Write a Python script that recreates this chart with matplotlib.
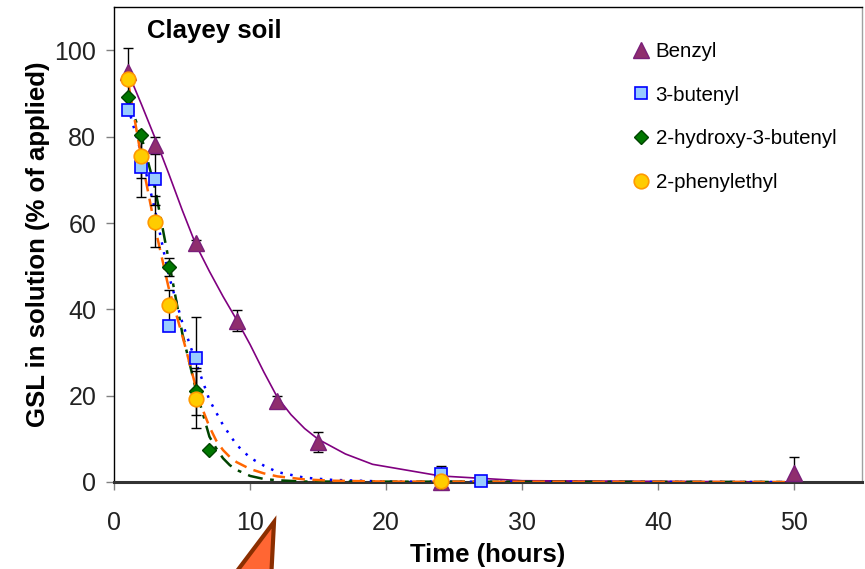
import matplotlib
matplotlib.use("Agg")
import matplotlib.pyplot as plt
from matplotlib.lines import Line2D
from matplotlib.patches import Polygon

plt.rcParams["font.family"] = ["Liberation Sans", "DejaVu Sans"]

# ------------------------------------------------------------
# measured data (time in hours, % of applied remaining)
# ------------------------------------------------------------
benzyl_t = [1, 3, 6, 9, 12, 15, 24, 50]
benzyl_v = [95.0, 78.0, 55.3, 37.4, 18.7, 9.3, 0.0, 2.0]
benzyl_err = [5.5, 2.0, 0.8, 2.4, 1.3, 2.3, 0.0, 3.8]

butenyl_t = [1, 2, 3, 4, 6, 24, 27]
butenyl_v = [86.2, 73.0, 70.2, 36.2, 28.7, 1.9, 0.2]
butenyl_err = [0.0, 7.0, 6.0, 0.5, 9.6, 1.9, 0.0]

hydroxy_t = [1, 2, 4, 6, 7, 24]
hydroxy_v = [89.2, 80.3, 49.8, 21.0, 7.3, 0.0]
hydroxy_err = [0.0, 0.0, 2.0, 5.4, 0.0, 0.0]

phenyl_t = [1, 2, 3, 4, 6, 24]
phenyl_v = [93.4, 75.5, 60.3, 40.9, 19.2, 0.2]
phenyl_err = [0.0, 5.0, 5.9, 3.6, 6.6, 0.0]

# fitted curves
benzyl_fit_t = [1, 2, 3, 4, 5, 6, 7, 8, 9, 10, 11, 12, 13, 14, 15, 17, 19, 24, 30, 50]
benzyl_fit_v = [95.0, 87.5, 79.7, 71.5, 63.0, 55.0, 48.8, 43.0, 37.6, 31.8, 25.5, 19.6,
                15.6, 12.4, 9.9, 6.5, 4.1, 1.4, 0.3, 0.0]

butenyl_fit_t = [1, 2, 3, 4, 5, 6, 7, 8, 9, 10, 11, 12, 14, 16, 20, 50]
butenyl_fit_v = [87.0, 76.0, 63.0, 48.0, 37.0, 27.8, 19.0, 13.2, 8.6, 5.6, 3.8, 2.3,
                 1.0, 0.5, 0.1, 0.0]

hydroxy_fit_t = [1, 2, 3, 4, 5, 6, 6.5, 7, 7.5, 8, 8.5, 9, 10, 11, 12, 14, 50]
hydroxy_fit_v = [89.0, 80.0, 68.0, 51.5, 34.5, 21.5, 16.0, 10.5, 7.8, 5.5, 3.9, 2.8,
                 1.4, 0.7, 0.4, 0.1, 0.0]

phenyl_fit_t = [1, 2, 3, 4, 5, 5.5, 6, 6.5, 7, 7.5, 8, 8.5, 9, 10, 11, 12, 14, 16, 20, 50]
phenyl_fit_v = [93.0, 75.0, 59.0, 45.0, 34.0, 28.0, 22.0, 16.8, 12.8, 9.6, 7.4, 5.8,
                4.6, 3.0, 2.0, 1.3, 0.6, 0.3, 0.1, 0.0]

labels = ["Benzyl", "3-butenyl", "2-hydroxy-3-butenyl", "2-phenylethyl"]
x_ticks = [0, 10, 20, 30, 40, 50]
y_ticks = [0, 20, 40, 60, 80, 100]

# ------------------------------------------------------------
fig = plt.figure(figsize=(8.65, 5.69), dpi=100)
ax = fig.add_axes([0.1321, 0.1529, 0.8644, 0.8343])

# fitted lines
ax.plot(benzyl_fit_t, benzyl_fit_v, color="#800080", lw=1.2, zorder=3)
ax.plot(butenyl_fit_t, butenyl_fit_v, color="#0000ff", lw=1.8,
        linestyle=(0, (1, 3)), zorder=3)
ax.plot(hydroxy_fit_t, hydroxy_fit_v, color="#004400", lw=1.8,
        linestyle=(0, (6, 3, 1.5, 3)), zorder=3)
ax.plot(phenyl_fit_t, phenyl_fit_v, color="#ff6600", lw=1.8,
        linestyle=(0, (5, 3)), zorder=3)

# error bars
err_kw = dict(fmt="none", ecolor="black", elinewidth=1.0, capsize=3.6,
              capthick=1.0, zorder=4)
ax.errorbar(benzyl_t, benzyl_v, yerr=benzyl_err, **err_kw)
ax.errorbar(butenyl_t, butenyl_v, yerr=butenyl_err, **err_kw)
ax.errorbar(hydroxy_t, hydroxy_v, yerr=hydroxy_err, **err_kw)
ax.errorbar(phenyl_t, phenyl_v, yerr=phenyl_err, **err_kw)

# markers
styles = [
    dict(marker="^", ms=11, mfc="#8f2e6e", mec="#7a1f7a", mew=1.0),
    dict(marker="s", ms=9, mfc="#99ccff", mec="#0000ff", mew=1.2),
    dict(marker="D", ms=7, mfc="#007700", mec="#004400", mew=1.0),
    dict(marker="o", ms=10.5, mfc="#ffcc00", mec="#ff9900", mew=1.2),
]
series = [(benzyl_t, benzyl_v), (butenyl_t, butenyl_v),
          (hydroxy_t, hydroxy_v), (phenyl_t, phenyl_v)]
for (t, v), st, z in zip(series, styles, [5, 6, 5.5, 7]):
    ax.plot(t, v, linestyle="none", zorder=z, clip_on=False, **st)

ax.set_xlim(0, 55)
ax.set_ylim(0, 110)
ax.set_xticks(x_ticks)
ax.set_yticks(y_ticks)
ax.tick_params(axis="both", direction="out", length=6, width=1.0,
               color="#808080", labelsize=18, labelcolor="#222222", pad=7)
ax.tick_params(axis="x", pad=15)

for side in ["left", "top"]:
    ax.spines[side].set_color("black")
    ax.spines[side].set_linewidth(1.0)
ax.spines["right"].set_color("#a0a0a0")
ax.spines["right"].set_linewidth(1.0)
ax.spines["bottom"].set_color("#333333")
ax.spines["bottom"].set_linewidth(2.2)

ax.set_xlabel("Time (hours)", fontsize=18.5, fontweight="bold", labelpad=6)
ax.set_ylabel("GSL in solution (% of applied)", fontsize=18.5,
              fontweight="bold", labelpad=3)

ax.text(0.044, 0.95, "Clayey soil", transform=ax.transAxes, fontsize=18.5,
        fontweight="bold", ha="left", va="center")

handles = [Line2D([], [], linestyle="none", **st) for st in styles]
leg = ax.legend(handles, labels, loc="upper left",
                bbox_to_anchor=(633 / 865, 1 - 42 / 569),
                bbox_transform=fig.transFigure, frameon=False,
                fontsize=14.8, handlelength=0.8, handletextpad=0.3,
                labelspacing=1.2, borderaxespad=0, borderpad=0)

# orange pointer shape at the bottom edge
tri = Polygon([(274 / 865, 1 - 522 / 569), (230 / 865, -0.02), (271 / 865, -0.02)],
              closed=True, transform=fig.transFigure, facecolor="#ff6633",
              edgecolor="#8b2e00", lw=3.0, clip_on=False)
fig.patches.append(tri)

fig.savefig("out.png", dpi=100)
